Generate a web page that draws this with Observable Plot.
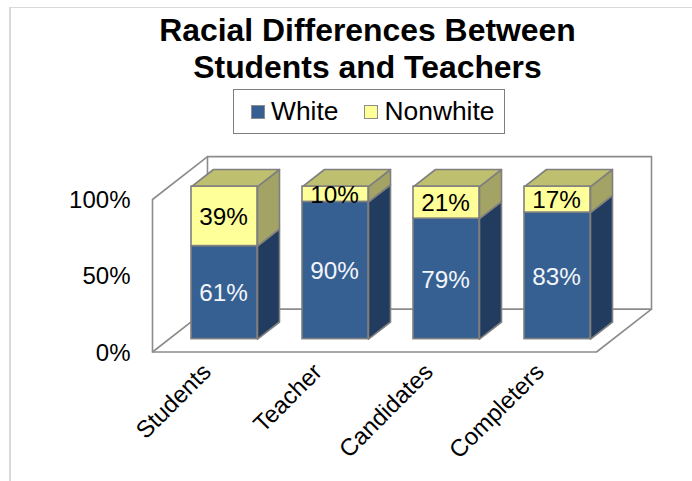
<!DOCTYPE html>
<html>
<head>
<meta charset="utf-8">
<script src="https://cdn.jsdelivr.net/npm/d3@7"></script>
<script src="https://cdn.jsdelivr.net/npm/@observablehq/plot@0.6"></script>
<style>
html,body{margin:0;padding:0;background:#fff;overflow:hidden}
body{font-family:"Liberation Sans",Arial,sans-serif;color:#000}
#frame{position:absolute;left:9px;top:7px;width:683px;height:474px;box-sizing:border-box;border-left:2px solid #d9d9d9;border-top:1.5px solid #d9d9d9}
#title{position:absolute;left:0;top:4px;width:713px;text-align:center;font-weight:bold;font-size:31.9px;line-height:36.5px;height:80px}
#legend{position:absolute;left:222px;top:81px;width:272px;height:45px;box-sizing:border-box;border:1.5px solid #7f7f7f;display:flex;align-items:center;font-size:26.4px;padding-left:17px}
.sw{width:14px;height:14px;box-sizing:border-box;border:1.5px solid #8c8c8c;margin-right:6px}
#chart{position:absolute;left:0;top:132.5px}
#chart svg{display:block}
</style>
</head>
<body>
<div id="frame">
  <div id="title">Racial Differences Between<br>Students and Teachers</div>
  <div id="legend"></div>
  <div id="chart"></div>
</div>
<script>
const categories = ["Students", "Teacher", "Candidates", "Completers"];
const white = [61, 90, 79, 83];
const nonwhite = [39, 10, 21, 17];
const yTicks = [0, 50, 100];
const seriesNames = ["White", "Nonwhite"];
const seriesColors = ["#376092", "#FFFF99"];

// oblique projection of (category, percent, depth) onto the two scales
const depthX = 55 / 111, depthY = 28.1;
const P = (c, v, d, key) => ({x: c + d * depthX, y: v + d * depthY, key});
const barL = 0.2027, barR = 0.7973, d0 = 0.3, d1 = 0.7;
const N = categories.length;

const segments = categories.flatMap((c, i) => [
  {i, name: "White", v0: 0, v1: white[i], label: white[i] + "%"},
  {i, name: "Nonwhite", v0: white[i], v1: white[i] + nonwhite[i], label: nonwhite[i] + "%"}
]);
const side = s => {
  const k = s.i + s.name;
  return [P(s.i+barR,s.v0,d0,k),P(s.i+barR,s.v0,d1,k),P(s.i+barR,s.v1,d1,k),P(s.i+barR,s.v1,d0,k),P(s.i+barR,s.v0,d0,k)];
};
const top_ = s => {
  const k = s.i;
  return [P(s.i+barL,s.v1,d0,k),P(s.i+barL,s.v1,d1,k),P(s.i+barR,s.v1,d1,k),P(s.i+barR,s.v1,d0,k),P(s.i+barL,s.v1,d0,k)];
};
const W = segments.filter(s => s.name === "White");
const Y = segments.filter(s => s.name === "Nonwhite");

const walls = [
  [P(0,100,0),P(0,0,0),P(N,0,0),P(N,0,1),P(N,100,1),P(0,100,1),P(0,100,0)],
  [P(0,0,0),P(0,0,1),P(N,0,1)],
  [P(0,100,1),P(0,0,1)]
].flatMap((w, k) => w.map(p => ({...p, key: k})));

const stroke = "#7f7f7f";
const face = (data, fill) => Plot.line(data, {x: "x", y: "y", z: "key", fill, stroke, strokeWidth: 1.6, strokeLinejoin: "round"});

const plot = Plot.plot({
  width: 681, height: 341,
  marginLeft: 141, marginRight: 96, marginTop: 58, marginBottom: 130.5,
  x: {type: "linear", domain: [0, N]},
  y: {domain: [0, 100]},
  style: {fontFamily: "Liberation Sans, Arial, sans-serif", background: "transparent", color: "#000", overflow: "visible"},
  marks: [
    Plot.line(walls, {x: "x", y: "y", z: "key", stroke: "#8c8c8c", strokeWidth: 1.6}),
    Plot.axisY({ticks: yTicks, tickFormat: d => d + "%", tickSize: 0, tickPadding: 22, fontSize: 24, label: null, anchor: "left", dy: 1}),
    Plot.axisX({ticks: categories.map((c, i) => i + 0.5), tickFormat: t => categories[t - 0.5], tickSize: 0, tickPadding: 16, tickRotate: -45, fontSize: 23.9, label: null, dx: -1}),
    face(W.flatMap(side), "#213C5E"),
    face(Y.flatMap(side), "#A3A366"),
    face(Y.flatMap(top_), "#BFBF70"),
    Plot.rect(segments, {
      x1: s => s.i + barL + d0 * depthX, x2: s => s.i + barR + d0 * depthX,
      y1: s => s.v0 + d0 * depthY, y2: s => s.v1 + d0 * depthY,
      fill: s => seriesColors[seriesNames.indexOf(s.name)], stroke, strokeWidth: 1.6
    }),
    Plot.text(segments, {
      x: s => s.i + 0.5 + d0 * depthX - 0.008, y: s => (s.v0 + s.v1) / 2 + d0 * depthY,
      text: "label", fontSize: 24.3, dy: 1,
      fill: s => s.name === "White" ? "#f2f5fa" : "#000"
    })
  ],
  color: {type: "identity"}
});
document.getElementById("chart").append(plot);

const legend = document.getElementById("legend");
seriesNames.forEach((n, i) => {
  const sw = document.createElement("span");
  sw.className = "sw"; sw.style.background = seriesColors[i];
  if (i) sw.style.marginLeft = "26px";
  const t = document.createElement("span");
  t.textContent = n;
  legend.append(sw, t);
});
</script>
</body>
</html>
